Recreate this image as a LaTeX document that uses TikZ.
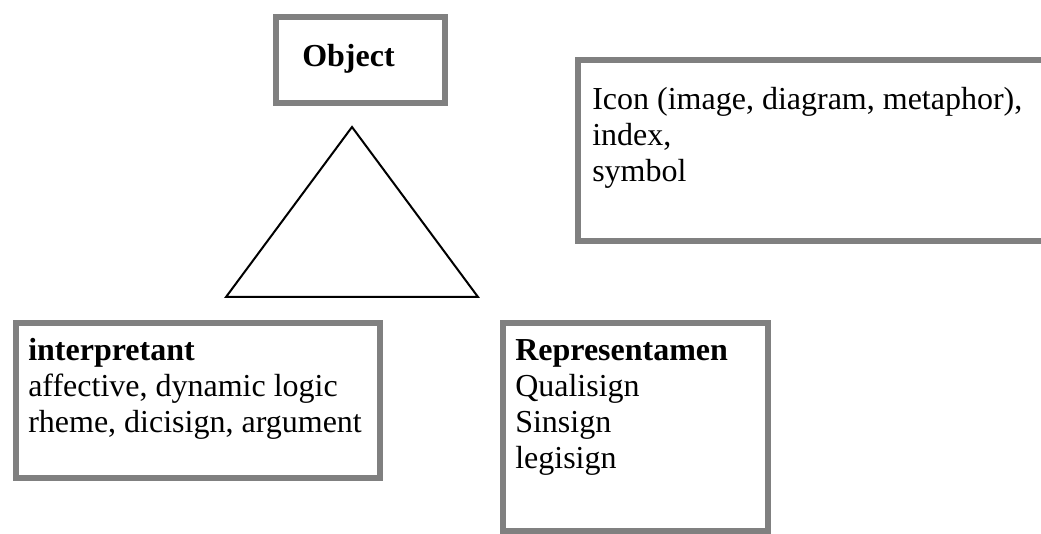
\documentclass[tikz,border=0pt]{standalone}
\usepackage{fontspec}
\setmainfont{Liberation Serif}
\usetikzlibrary{positioning}
\definecolor{framegray}{HTML}{808080}

\begin{document}
\begin{tikzpicture}[x=0.75pt,y=-0.75pt,
  frame/.style={draw=framegray,line width=4.4pt,inner sep=0pt,anchor=north west},
  txt/.style={anchor=base west,inner sep=0pt,font=\fontsize{24}{27}\selectfont},
  head/.style={txt,font=\fontsize{24}{27}\selectfont\bfseries}]

\clip (0,0) rectangle (1041,534);
\fill[white] (0,0) rectangle (1041,534);

% frames
\node[frame,minimum width=126.75pt,minimum height=64.5pt] (obj) at (273,14) {};
\node[frame,minimum width=363.75pt,minimum height=135.75pt] (kinds) at (575,57) {};
\node[frame,minimum width=273pt,minimum height=116.25pt] (interp) at (13,320) {};
\node[frame,minimum width=198.75pt,minimum height=156pt] (repr) at (500,320) {};

% triangle
\coordinate (top) at (352,127);
\coordinate (bl) at (226,297);
\coordinate (br) at (478,297);
\draw[line width=1.5pt] (top) -- (bl) -- (br) -- cycle;

% texts
\node[head] (objtxt) at (302,67) {Object};

\def\kindlines{1/{Icon (image, diagram, metaphor),},2/{index,},3/{symbol}}
\foreach \i / \line in \kindlines
  \node[txt] (k\i) at (592,{74+36*\i}) {\line};

\node[head] (i0) at (28,360) {interpretant};
\def\interplines{1/{affective, dynamic logic},2/{rheme, dicisign, argument}}
\foreach \i / \line in \interplines
  \node[txt] (i\i) at (28,{360+36*\i}) {\line};

\node[head] (r0) at (515,360) {Representamen};
\def\reprlines{1/{Qualisign},2/{Sinsign},3/{legisign}}
\foreach \i / \line in \reprlines
  \node[txt] (r\i) at (515,{360+36*\i}) {\line};

\end{tikzpicture}
\end{document}
